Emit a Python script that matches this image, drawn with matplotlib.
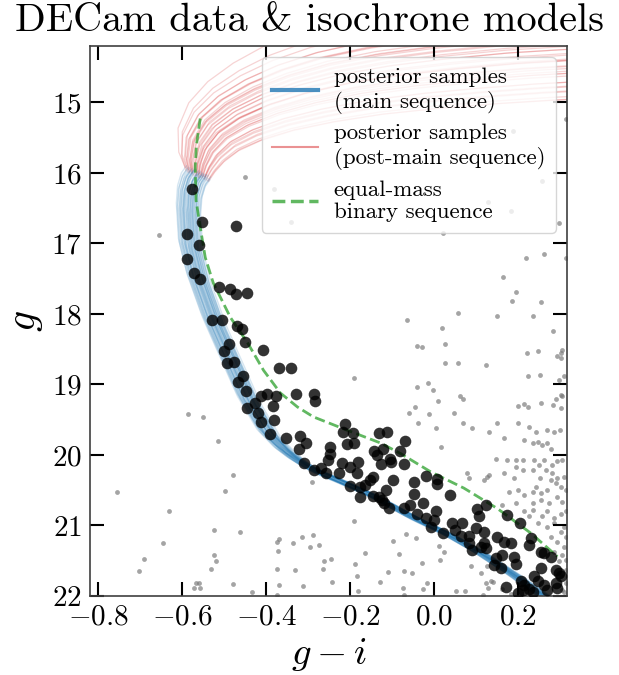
import numpy as np
import matplotlib
matplotlib.use("Agg")
import matplotlib.pyplot as plt
from matplotlib.lines import Line2D

plt.rcParams.update({
    "font.family": "serif",
    "font.serif": ["cmr10"],
    "mathtext.fontset": "cm",
    "axes.formatter.use_mathtext": True,
})

# base single-star main sequence (faint end -> turnoff)
ms_color = np.array([0.315, 0.248, 0.191, 0.112, 0.033, -0.048, -0.144, -0.223, -0.287, -0.325,
                     -0.356, -0.395, -0.442, -0.495, -0.526, -0.562, -0.581, -0.586, -0.583, -0.574,
                     -0.562])
ms_mag = np.array([22.22, 21.94, 21.70, 21.39, 21.12, 20.89, 20.58, 20.37, 20.21, 20.07,
                   19.93, 19.69, 19.22, 18.51, 18.09, 17.49, 17.03, 16.53, 16.28, 16.10,
                   16.00])

# post-main-sequence branch: faint and bright envelope of the posterior
pms_faint_color = np.array([-0.565, -0.548, -0.524, -0.488, -0.434, -0.356, -0.258, -0.140, 0.000, 0.140, 0.260, 0.400])
pms_faint_mag = np.array([16.02, 15.90, 15.77, 15.63, 15.50, 15.37, 15.26, 15.16, 15.08, 15.02, 14.98, 14.94])
pms_bright_color = np.array([-0.565, -0.582, -0.585, -0.560, -0.515, -0.455, -0.385, -0.300, -0.200, -0.080, 0.100, 0.400])
pms_bright_mag = np.array([16.02, 15.80, 15.45, 15.08, 14.77, 14.50, 14.26, 14.05, 13.88, 13.75, 13.62, 13.50])

# per-sample colour / magnitude offsets and post-MS position within the envelope
sample_dcolor = [0.000, 0.012, -0.010, 0.020, -0.018, 0.006, -0.004, 0.026, -0.024, 0.015,
                 -0.013, 0.003, 0.009, -0.007, 0.018, -0.021, 0.030, -0.028, 0.001, -0.002,
                 0.011, -0.015, 0.022, -0.009, 0.005, 0.014, -0.017, 0.008, -0.026, 0.024,
                 -0.005, 0.017, -0.012, 0.004, 0.028, -0.020, 0.010, -0.001, 0.019, -0.011]
sample_dmag = [0.01, 0.05, -0.05, 0.03, -0.02, -0.02, 0.03, 0.09, -0.08, 0.02,
               -0.01, 0.04, 0.00, -0.05, 0.07, -0.03, 0.06, -0.10, -0.03, 0.02,
               0.01, -0.06, 0.08, 0.01, 0.05, 0.03, -0.04, 0.04, -0.05, 0.04,
               -0.04, 0.06, -0.03, 0.00, 0.10, -0.07, 0.02, -0.01, 0.03, -0.02]
sample_pms_w = [0.45, 0.30, 0.60, 0.20, 0.70, 0.38, 0.52, 0.10, 0.85, 0.28,
                0.62, 0.42, 0.34, 0.55, 0.18, 0.75, 0.05, 0.95, 0.48, 0.40,
                0.32, 0.66, 0.14, 0.58, 0.44, 0.26, 0.68, 0.36, 0.80, 0.12,
                0.50, 0.22, 0.64, 0.46, 0.08, 0.72, 0.30, 0.54, 0.16, 0.60]

# equal-mass binary sequence
binary_color = [-0.557, -0.566, -0.569, -0.567, -0.557, -0.545, -0.526, -0.485, -0.444, -0.406,
                -0.366, -0.325, -0.287, -0.206, -0.127, -0.079, -0.007, 0.072, 0.152, 0.232,
                0.295]
binary_mag = [15.23, 15.60, 15.92, 16.39, 16.77, 17.20, 17.56, 18.05, 18.41, 18.80,
              19.12, 19.32, 19.46, 19.65, 19.83, 19.98, 20.24, 20.47, 20.76, 21.11,
              21.44]

# cluster members (DECam)
member_color = [-0.577, -0.552, -0.589, -0.559, -0.471, -0.589, -0.571, -0.557, -0.513, -0.485,
                -0.472, -0.445, -0.529, -0.505, -0.469, -0.457, -0.451, -0.489, -0.501, -0.408,
                -0.492, -0.477, -0.370, -0.340, -0.454, -0.467, -0.449, -0.412, -0.398, -0.376,
                -0.328, -0.286, -0.283, -0.427, -0.383, -0.445, -0.419, -0.412, -0.382, -0.390,
                -0.352, -0.318, -0.304, -0.322, -0.211, -0.216, -0.192, -0.206, -0.191, -0.248,
                -0.248, -0.252, -0.219, -0.199, -0.181, -0.183, -0.225, -0.310, -0.286, -0.270,
                -0.257, -0.131, -0.111, -0.143, -0.120, -0.135, -0.105, -0.125, -0.081, -0.144,
                -0.152, -0.164, -0.098, -0.113, -0.199, -0.175, -0.144, -0.175, -0.131, -0.069,
                -0.070, -0.047, -0.047, -0.019, 0.007, 0.007, -0.026, 0.039, -0.119, -0.107,
                -0.071, -0.057, -0.039, -0.019, 0.005, 0.000, -0.007, 0.021, 0.044, 0.067,
                0.050, 0.064, 0.084, 0.104, 0.108, 0.124, 0.100, 0.084, 0.112, 0.120,
                0.152, 0.168, 0.176, 0.206, 0.120, 0.184, 0.232, 0.228, 0.124, 0.092,
                0.148, 0.164, 0.192, 0.196, 0.144, 0.160, 0.255, 0.263, 0.279, 0.255,
                0.291, 0.299, 0.172, 0.208, 0.216, 0.239, 0.248, 0.263, 0.271, 0.291,
                0.295, 0.212, 0.236, 0.303, 0.228, 0.200, -0.123, -0.103]
member_mag = [16.23, 16.70, 16.87, 17.02, 16.76, 17.22, 17.42, 17.50, 17.62, 17.65,
              17.72, 17.70, 18.09, 18.09, 18.17, 18.21, 18.40, 18.43, 18.52, 18.51,
              18.69, 18.68, 18.76, 18.76, 18.88, 18.96, 19.10, 19.16, 19.14, 19.17,
              19.13, 19.13, 19.23, 19.26, 19.30, 19.34, 19.41, 19.53, 19.50, 19.70,
              19.76, 19.73, 19.83, 19.92, 19.56, 19.67, 19.69, 19.84, 19.83, 19.89,
              19.99, 20.07, 20.12, 20.17, 20.10, 20.25, 20.25, 20.12, 20.21, 20.18,
              20.25, 19.69, 19.68, 19.95, 19.92, 20.00, 20.06, 20.13, 19.94, 20.31,
              20.36, 20.43, 20.36, 20.49, 20.44, 20.46, 20.58, 20.59, 20.59, 19.80,
              20.13, 20.39, 20.55, 20.30, 20.34, 20.41, 20.68, 20.57, 20.68, 20.75,
              20.75, 20.71, 20.83, 20.89, 20.79, 20.92, 21.02, 21.11, 20.97, 20.96,
              21.07, 21.15, 21.15, 20.76, 20.87, 20.71, 21.04, 21.25, 21.30, 21.25,
              21.16, 21.24, 20.85, 20.96, 21.09, 21.25, 21.18, 21.27, 21.32, 21.35,
              21.46, 21.42, 21.45, 21.54, 21.56, 21.60, 21.37, 21.39, 21.44, 21.60,
              21.63, 21.68, 21.87, 21.79, 21.84, 21.72, 21.79, 21.84, 21.91, 21.82,
              21.89, 21.91, 21.94, 21.72, 21.90, 21.96, 20.64, 20.10]

# field stars
field_color = [-0.587, -0.551, -0.515, -0.479, -0.497, -0.755, -0.632, -0.524, -0.461, -0.647,
               -0.692, -0.704, -0.524, -0.520, -0.532, -0.479, -0.433, -0.567, -0.561, -0.571,
               -0.557, -0.290, -0.189, -0.374, -0.369, -0.335, -0.314, -0.289, -0.372, -0.294,
               -0.273, -0.261, -0.245, -0.165, -0.096, -0.084, -0.375, -0.331, -0.263, -0.187,
               -0.183, -0.110, -0.369, -0.312, -0.242, -0.181, -0.129, -0.374, -0.073, -0.071,
               -0.025, -0.015, 0.052, 0.075, 0.117, 0.129, 0.141, 0.162, 0.184, 0.310,
               -0.191, -0.041, -0.013, -0.001, 0.011, -0.045, -0.058, -0.011, -0.037, 0.005,
               0.063, 0.071, 0.048, 0.071, 0.091, 0.018, 0.080, 0.083, 0.023, 0.219,
               0.263, 0.315, 0.165, 0.196, 0.186, 0.255, -0.063, 0.059, 0.152, 0.237,
               0.019, 0.284, 0.027, -0.039, -0.028, 0.026, 0.057, 0.125, 0.222, 0.248,
               0.307, 0.303, 0.294, 0.304, 0.226, 0.253, 0.311, 0.298, 0.303, 0.316,
               0.189, 0.258, 0.130, 0.184, 0.299, -0.382, -0.340, -0.451, -0.656, 0.150,
               0.132, 0.168, 0.200, 0.216, 0.224, 0.200, 0.257, 0.284, 0.303, 0.307,
               0.291, 0.227, 0.243, 0.271, 0.287, 0.302, 0.216, 0.236, 0.248, 0.259,
               0.271, 0.279, 0.174, 0.148, 0.196, 0.214, 0.239, 0.251, 0.263, 0.283,
               0.295, 0.307, 0.168, 0.132, 0.128, 0.196, 0.214, 0.238, 0.269, 0.283,
               0.295, 0.311, 0.192, 0.180, 0.201, 0.216, 0.236, 0.243, 0.255, 0.271,
               0.281, 0.291, 0.303, 0.315, 0.295, 0.307, 0.236, 0.255, 0.275, 0.216,
               0.227, 0.236, 0.259, 0.271, 0.287, 0.303, 0.315, 0.248, 0.271, 0.287,
               0.310, 0.303, 0.315, 0.279, 0.295, 0.311, 0.287, 0.307, 0.315, 0.299,
               0.315, 0.303, 0.315, 0.307, -0.067, -0.043, 0.012, 0.016, -0.027, 0.024,
               0.088, -0.071, -0.051, 0.124, 0.136, 0.128, 0.112, 0.120, 0.253, 0.164,
               0.196]
field_mag = [19.42, 19.46, 19.80, 20.29, 20.51, 20.52, 20.79, 21.07, 21.09, 21.25,
             21.48, 21.65, 21.42, 21.50, 21.61, 21.83, 21.95, 21.82, 21.81, 21.89,
             21.89, 20.38, 20.93, 21.23, 21.19, 21.25, 21.16, 21.14, 21.36, 21.31,
             21.28, 21.50, 21.47, 21.39, 21.22, 21.40, 21.62, 21.63, 21.62, 21.54,
             21.72, 21.66, 21.84, 21.86, 21.80, 21.93, 21.80, 21.98, 21.88, 21.98,
             21.90, 21.81, 21.93, 21.93, 21.99, 21.88, 21.80, 21.90, 21.97, 21.94,
             18.91, 19.03, 18.98, 19.08, 19.24, 19.32, 19.41, 19.42, 19.54, 19.62,
             19.16, 19.21, 19.40, 19.54, 19.62, 19.89, 20.26, 20.32, 16.85, 17.21,
             17.15, 17.21, 17.48, 17.69, 17.81, 17.83, 18.08, 17.99, 18.03, 18.03,
             18.20, 18.24, 18.42, 18.46, 18.47, 18.69, 18.69, 18.73, 18.56, 18.53,
             18.51, 18.56, 18.60, 18.63, 18.88, 18.86, 18.88, 18.94, 19.15, 15.23,
             15.41, 16.12, 16.42, 16.54, 16.71, 16.23, 16.70, 16.06, 16.88, 19.55,
             19.68, 19.76, 19.55, 19.28, 19.32, 19.31, 19.26, 19.29, 19.34, 19.17,
             19.20, 19.60, 19.67, 19.65, 19.67, 19.65, 19.79, 19.83, 19.81, 19.86,
             19.83, 19.91, 20.07, 20.06, 20.07, 20.07, 20.07, 20.14, 20.07, 20.14,
             20.09, 20.07, 20.25, 20.28, 20.31, 20.17, 20.22, 20.22, 20.21, 20.26,
             20.33, 20.31, 20.33, 20.52, 20.50, 20.57, 20.52, 20.45, 20.54, 20.50,
             20.35, 20.40, 20.45, 20.50, 20.59, 20.66, 20.68, 20.64, 20.68, 20.80,
             20.87, 20.78, 20.87, 20.80, 20.90, 20.83, 20.80, 20.97, 21.02, 20.97,
             21.02, 21.09, 21.16, 21.16, 21.23, 21.30, 21.37, 21.42, 21.49, 21.51,
             21.63, 21.72, 21.82, 21.91, 21.12, 21.18, 21.29, 21.49, 21.53, 21.37,
             21.58, 21.65, 21.68, 21.82, 21.79, 21.58, 21.68, 20.35, 20.33, 20.71,
             20.68]

fig = plt.figure(figsize=(6.19, 6.75), dpi=100)
ax = fig.add_axes([0.1454, 0.117, 0.7706, 0.815])

for dc, dm, w in zip(sample_dcolor, sample_dmag, sample_pms_w):
    ax.plot(ms_color + dc, ms_mag + dm, color="C0", alpha=0.18, lw=1.0, zorder=2)
    pc = (1 - w) * pms_faint_color + w * pms_bright_color + dc
    pm = (1 - w) * pms_faint_mag + w * pms_bright_mag + dm
    ax.plot(pc, pm, color="C3", alpha=0.2, lw=0.9, zorder=1.5)

ax.plot(binary_color, binary_mag, ls="--", color="C2", lw=2, alpha=0.75, zorder=3)

ax.scatter(field_color, field_mag, s=12, c="0.45", alpha=0.65, lw=0, zorder=1)
ax.scatter(member_color, member_mag, s=70, c="k", alpha=0.8, lw=0, zorder=4)

ax.set_xlim(-0.82, 0.318)
ax.set_ylim(22, 14.2)
ax.set_xticks([-0.8, -0.6, -0.4, -0.2, 0.0, 0.2])
ax.set_yticks(range(15, 23))
ax.tick_params(direction="in", length=10, width=1.5, top=True, right=True,
               labelsize=21, pad=6)
for sp in ax.spines.values():
    sp.set_linewidth(1.2)
    sp.set_color("0.25")

ax.set_xlabel(r"$g-i$", fontsize=28)
ax.set_ylabel(r"$g$", fontsize=30)
fig.suptitle("DECam data & isochrone models", fontsize=29, x=0.5, y=0.995, va="top")

handles = [
    Line2D([], [], color="C0", lw=3, alpha=0.8),
    Line2D([], [], color="C3", lw=1.5, alpha=0.5),
    Line2D([], [], color="C2", lw=2.5, ls="--", alpha=0.75),
]
labels = ["posterior samples\n(main sequence)",
          "posterior samples\n(post-main sequence)",
          "equal-mass\nbinary sequence"]
ax.legend(handles, labels, loc="upper right", fontsize=16.5, handlelength=2.0,
          labelspacing=0.45, borderpad=0.45, handletextpad=0.7)

fig.savefig("out.png", dpi=100)
